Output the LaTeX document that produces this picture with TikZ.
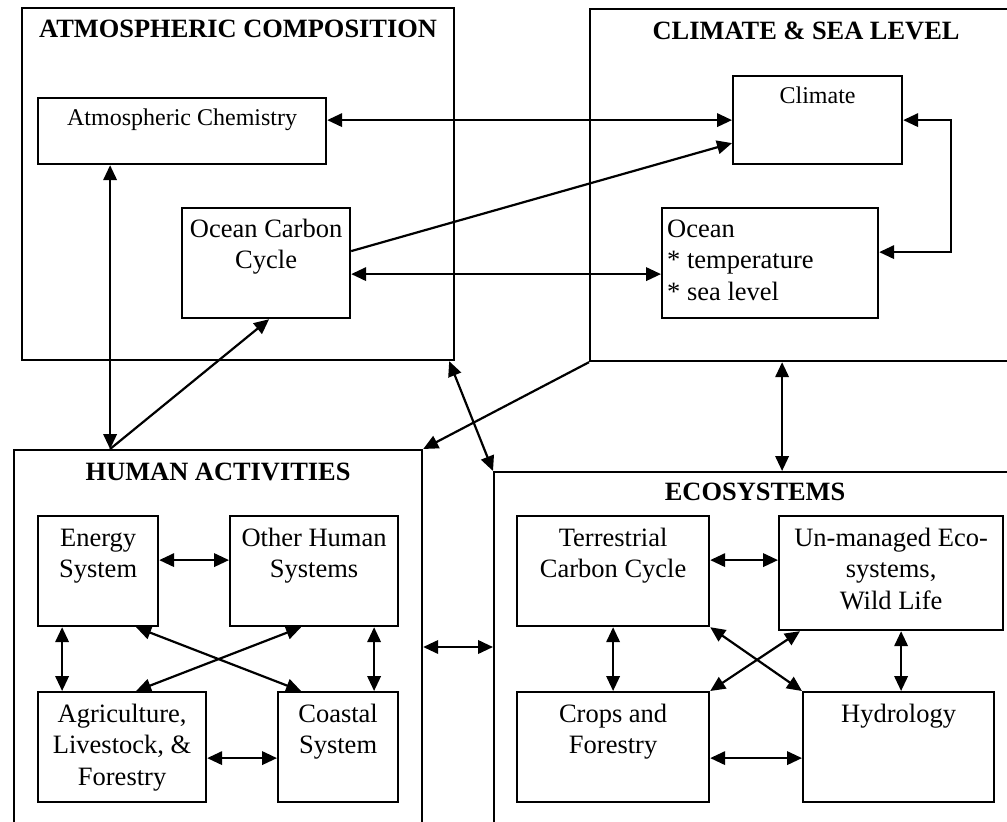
\documentclass[tikz,border=0pt]{standalone}
\usepackage{fontspec}
\setmainfont{Liberation Serif}
\usetikzlibrary{positioning,arrows.meta}

\begin{document}
\begin{tikzpicture}[x=1pt, y=-1pt,
  panel/.style={draw, line width=2.2pt, anchor=north west, inner sep=0},
  part/.style={draw, line width=2.2pt, anchor=north west, inner sep=0},
  head/.style={font=\fontsize{26.4}{30}\selectfont\bfseries, anchor=base, inner sep=0},
  txt/.style={font=\fontsize{26.5}{31.5}\selectfont, align=center, anchor=north, inner sep=0},
  smalltxt/.style={txt, font=\fontsize{24}{31.5}\selectfont},
  link/.style={line width=2.2pt, -{Triangle[length=15pt,width=13.5pt]}},
  both/.style={line width=2.2pt, {Triangle[length=15pt,width=13.5pt]}-{Triangle[length=15pt,width=13.5pt]}}]
\useasboundingbox (0,0) rectangle (1007,822);

% four panels
\node[panel, minimum width=432pt, minimum height=352pt] (atm) at (21,7) {};
\node[panel, minimum width=432pt, minimum height=352pt] (clim) at (589,8) {};
\node[panel, minimum width=408pt, minimum height=400pt] (hum) at (13,449) {};
\node[panel, minimum width=522pt, minimum height=380pt] (eco) at (493,471) {};
\node[head] (atm-t) at ([yshift=-30]atm.north) {ATMOSPHERIC COMPOSITION};
\node[head] (clim-t) at ([yshift=-31]clim.north) {CLIMATE \& SEA LEVEL};
\node[head] (hum-t) at ([yshift=-31]hum.north) {HUMAN ACTIVITIES};
\node[head] (eco-t) at ([yshift=-29]eco.north) {ECOSYSTEMS};

% boxes inside the panels
\node[part, minimum width=288pt, minimum height=66pt] (achem) at (37,97) {};
\node[part, minimum width=168pt, minimum height=110pt] (occ) at (181,207) {};
\node[part, minimum width=169pt, minimum height=88pt] (climate) at (732,75) {};
\node[part, minimum width=216pt, minimum height=110pt] (ocean) at (661,207) {};
\node[part, minimum width=120pt, minimum height=110pt] (energy) at (37,515) {};
\node[part, minimum width=168pt, minimum height=110pt] (other) at (229,515) {};
\node[part, minimum width=168pt, minimum height=110pt] (agri) at (37,691) {};
\node[part, minimum width=120pt, minimum height=110pt] (coastal) at (277,691) {};
\node[part, minimum width=192pt, minimum height=110pt] (terr) at (516,515) {};
\node[part, minimum width=224pt, minimum height=114pt] (unman) at (778,515) {};
\node[part, minimum width=192pt, minimum height=110pt] (crops) at (516,691) {};
\node[part, minimum width=191pt, minimum height=110pt] (hydro) at (802,691) {};

\node[smalltxt] (achem-t) at ([yshift=-6]achem.north) {\strut Atmospheric Chemistry};
\node[txt] (occ-t) at ([yshift=-8]occ.north) {\strut Ocean Carbon\\Cycle};
\node[smalltxt] (climate-t) at ([yshift=-6]climate.north) {\strut Climate};
\node[txt, anchor=north west, align=left] (ocean-t) at ([xshift=6, yshift=-8]ocean.north west) {\strut Ocean\\* temperature\\* sea level};
\node[txt] (energy-t) at ([yshift=-9]energy.north) {\strut Energy\\System};
\node[txt] (other-t) at ([yshift=-9]other.north) {\strut Other Human\\Systems};
\node[txt] (agri-t) at ([yshift=-9]agri.north) {\strut Agriculture,\\Livestock, \&\\Forestry};
\node[txt] (coastal-t) at ([yshift=-9]coastal.north) {\strut Coastal\\System};
\node[txt] (terr-t) at ([yshift=-9]terr.north) {\strut Terrestrial\\Carbon Cycle};
\node[txt] (unman-t) at ([yshift=-9]unman.north) {\strut Un-managed Eco-\\systems,\\Wild Life};
\node[txt] (crops-t) at ([yshift=-9]crops.north) {\strut Crops and\\Forestry};
\node[txt] (hydro-t) at ([yshift=-9]hydro.north) {\strut Hydrology};

% links between panels
\draw[both] (achem.east |- climate.west) -- (climate.west);
\draw[link] ([yshift=12]occ.east) -- ([yshift=-23]climate.west);
\draw[both] ([yshift=-11]occ.east) -- ([yshift=-11]ocean.west);
\draw[both] (climate.east) -- ++(48,0) |- ([yshift=11]ocean.east);
\draw[both] ([xshift=-72]achem.south) -- ([xshift=-72]achem.south |- hum.north);
\draw[link] ([xshift=-72]achem.south |- hum.north) -- ([xshift=3]occ.south);
\draw[both] ([xshift=-6]atm.south east) -- (eco.north west);
\draw[link] (clim.south west) -- (hum.north east);
\draw[both] ([xshift=-24]clim.south) -- ([xshift=-24]clim.south |- eco.north);
\draw[both] ([yshift=-198]hum.north east) -- ([yshift=-198]hum.north east -| eco.west);

% links inside the human panel
\draw[both] ([yshift=11]energy.east) -- ([yshift=11]energy.east -| other.west);
\draw[both] ([xshift=-36]energy.south) -- ([xshift=-36]energy.south |- agri.north);
\draw[both] ([xshift=60]other.south) -- ([xshift=60]other.south |- coastal.north);
\draw[both] ([yshift=-11]agri.east) -- ([yshift=-11]agri.east -| coastal.west);
\draw[both] ([xshift=38]energy.south) -- ([xshift=-37]coastal.north);
\draw[both] ([xshift=-13]other.south) -- ([xshift=14]agri.north);

% links inside the ecosystem panel
\draw[both] ([yshift=11]terr.east) -- ([yshift=11]terr.east -| unman.west);
\draw[both] ([yshift=-11]crops.east) -- ([yshift=-11]crops.east -| hydro.west);
\draw[both] ([xshift=10]unman.south) -- ([xshift=10]unman.south |- hydro.north);
\draw[both] ([xshift=22]unman.south west) -- (crops.north east);
\foreach \a/\b in {terr.south/crops.north, terr.south east/hydro.north west}
  \draw[both] (\a) -- (\b);
\end{tikzpicture}
\end{document}
